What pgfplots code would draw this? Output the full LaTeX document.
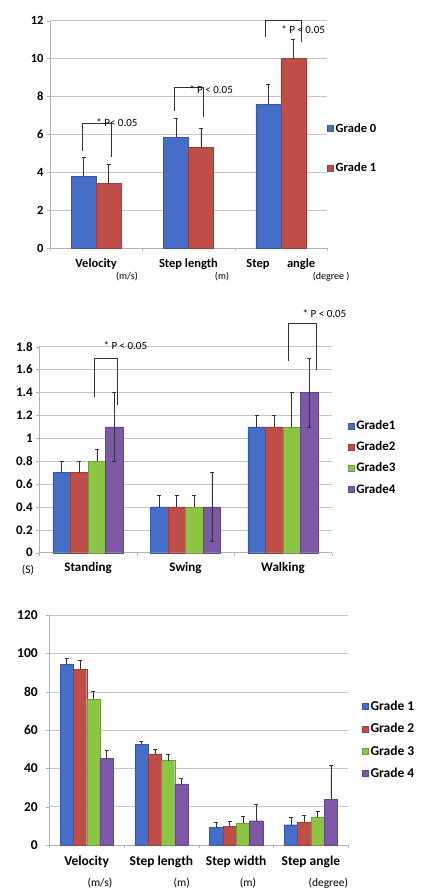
\documentclass[border=0pt]{standalone}
\usepackage{fontspec}
\setmainfont{Carlito}
\usepackage{pgfplots}
\pgfplotsset{compat=1.18}
\definecolor{cb}{RGB}{70,110,200}
\definecolor{cr}{RGB}{192,78,72}
\definecolor{cg}{RGB}{140,196,70}
\definecolor{cp}{RGB}{124,88,166}
\pgfplotsset{
  chart/.style={
    scale only axis, anchor=south west, ybar=0pt, clip=false,
    axis x line*=bottom, axis y line*=left,
    axis line style={gray!60,-},
    ymajorgrids, grid style={gray!45, line width=0.5pt},
    tick align=outside, major tick length=3pt, tick style={gray!60},
    /pgf/number format/assume math mode=true,
    legend style={draw=none, fill=none, anchor=north west},
    legend cell align=left,
    legend image code/.code={\fill[##1] (0pt,-3pt) rectangle (6pt,3pt);},
  },
  eb/.style={error bars/.cd, y dir=#1, y explicit,
    error bar style={black!80, line width=0.5pt},
    error mark options={rotate=90, mark size=2pt, black!80, line width=0.5pt}},
  eb/.default=plus,
  bstyle/.style={fill=#1, draw=#1!80!black, line width=0.3pt},
}
\begin{document}
\begin{tikzpicture}
\path[use as bounding box] (0,0) rectangle (420pt,888pt);
% ---------------- Panel 1 ----------------
\begin{axis}[chart,
  at={(50pt,640pt)}, width=277pt, height=227.3pt,
  ymin=0, ymax=12, ytick={0,2,4,6,8,10,12},
  xmin=-0.5, xmax=2.5,
  xtick={-0.5,0.5,1.5,2.5}, xticklabels={},
  extra x ticks={0,1,2},
  extra x tick labels={Velocity,Step length,{Step\hspace{1.4em}angle}},
  extra x tick style={major tick length=0pt, xticklabel style={yshift=-7pt}},
  ticklabel style={font=\bfseries\fontsize{12.5}{14}\selectfont},
  bar width=0.27,
  legend style={at={(0.99,0.567)}, font=\bfseries\fontsize{12.5}{14}\selectfont, row sep=25pt},
]
\addplot[bstyle=cb, bar shift=-0.135, eb] coordinates {(0,3.8) +- (0,1.0) (1,5.85) +- (0,1.0) (2,7.6) +- (0,1.05)};
\addplot[bstyle=cr, bar shift=0.135, eb] coordinates {(0,3.4) +- (0,1.0) (1,5.3) +- (0,1.03) (2,10.0) +- (0,1.02)};
\legend{Grade 0,Grade 1}
\draw[black!80, line width=0.5pt] (axis cs:-0.153,5.1) |- (axis cs:0.161,6.6) -- (axis cs:0.161,4.83);
\draw[black!80, line width=0.5pt] (axis cs:0.843,7.24) |- (axis cs:1.158,8.49) -- (axis cs:1.158,6.94);
\draw[black!80, line width=0.5pt] (axis cs:1.829,11.12) |- (axis cs:2.219,12.0) -- (axis cs:2.219,10.9);
\node[anchor=west, inner sep=0pt, font=\fontsize{11}{13}\selectfont] at (axis cs:0.0,6.6) {* P< 0.05};
\node[anchor=west, inner sep=0pt, font=\fontsize{11}{13}\selectfont] at (axis cs:1.006,8.38) {* P < 0.05};
\node[anchor=west, inner sep=0pt, font=\fontsize{11}{13}\selectfont] at (axis cs:2.003,11.54) {* P < 0.05};
\node[font=\fontsize{10}{12}\selectfont] at (axis cs:0.334,0) [yshift=-29pt] {(m/s)};
\node[font=\fontsize{10}{12}\selectfont] at (axis cs:1.363,0) [yshift=-29pt] {(m)};
\node[font=\fontsize{10}{12}\selectfont] at (axis cs:2.544,0) [yshift=-29pt] {(degree )};
\end{axis}
% ---------------- Panel 2 ----------------
\begin{axis}[chart,
  at={(39.3pt,335.3pt)}, width=292.4pt, height=206pt,
  ymin=0, ymax=1.8, ytick={0,0.2,0.4,0.6,0.8,1,1.2,1.4,1.6,1.8},
  yticklabel style={/pgf/number format/fixed},
  xmin=-0.5, xmax=2.5,
  xtick={-0.5,0.5,1.5,2.5}, xticklabels={},
  extra x ticks={0,1,2},
  extra x tick labels={Standing,Swing,Walking},
  extra x tick style={major tick length=0pt, xticklabel style={yshift=-6pt}},
  ticklabel style={font=\bfseries\fontsize{13}{15}\selectfont},
  bar width=0.18,
  legend style={at={(1.045,0.662)}, font=\bfseries\fontsize{13}{15}\selectfont, row sep=6.5pt},
]
\addplot[bstyle=cb, bar shift=-0.27, eb] coordinates {(0,0.7) +- (0,0.1) (1,0.4) +- (0,0.1) (2,1.1) +- (0,0.1)};
\addplot[bstyle=cr, bar shift=-0.09, eb] coordinates {(0,0.7) +- (0,0.1) (1,0.4) +- (0,0.1) (2,1.1) +- (0,0.1)};
\addplot[bstyle=cg, bar shift=0.09, eb] coordinates {(0,0.8) +- (0,0.1) (1,0.4) +- (0,0.1) (2,1.1) +- (0,0.3)};
\addplot[bstyle=cp, bar shift=0.27, eb=both] coordinates {(0,1.1) +- (0,0.3) (1,0.4) +- (0,0.3) (2,1.4) +- (0,0.3)};
\legend{Grade1,Grade2,Grade3,Grade4}
\draw[black!80, line width=0.5pt] (axis cs:0.061,1.363) |- (axis cs:0.300,1.698) -- (axis cs:0.300,1.29);
\draw[black!80, line width=0.5pt] (axis cs:2.054,1.675) |- (axis cs:2.338,2.004) -- (axis cs:2.338,1.596);
\node[anchor=west, inner sep=0pt, font=\fontsize{11}{13}\selectfont] at (axis cs:0.157,1.81) {* P < 0.05};
\node[anchor=west, inner sep=0pt, font=\fontsize{11}{13}\selectfont] at (axis cs:2.2,2.09) {* P < 0.05};
\node[font=\fontsize{11.5}{13}\selectfont] at (axis cs:-0.616,0) [yshift=-17pt] {(S)};
\end{axis}
% ---------------- Panel 3 ----------------
\begin{axis}[chart,
  at={(49.3pt,43pt)}, width=299pt, height=229.7pt,
  ymin=0, ymax=120, ytick={0,20,40,60,80,100,120},
  xmin=-0.5, xmax=3.5,
  xtick={-0.5,0.5,1.5,2.5,3.5}, xticklabels={},
  extra x ticks={0,1,2,3},
  extra x tick labels={Velocity,Step length,Step width,Step angle},
  extra x tick style={major tick length=0pt, xticklabel style={yshift=-7pt}},
  ticklabel style={font=\bfseries\fontsize{13.5}{15}\selectfont},
  yticklabel style={xshift=-5pt},
  bar width=0.178,
  legend style={at={(1.036,0.645)}, font=\bfseries\fontsize{13.5}{15}\selectfont, row sep=7.3pt},
]
\addplot[bstyle=cb, bar shift=-0.267, eb] coordinates {(0,94.3) +- (0,3.3) (1,52.6) +- (0,1.4) (2,9.1) +- (0,2.6) (3,10.6) +- (0,3.7)};
\addplot[bstyle=cr, bar shift=-0.089, eb] coordinates {(0,91.8) +- (0,4.5) (1,47.6) +- (0,2.2) (2,9.9) +- (0,2.5) (3,11.8) +- (0,3.5)};
\addplot[bstyle=cg, bar shift=0.089, eb] coordinates {(0,76.1) +- (0,4.2) (1,44.1) +- (0,3.1) (2,11.5) +- (0,3.3) (3,14.5) +- (0,3.3)};
\addplot[bstyle=cp, bar shift=0.267, eb] coordinates {(0,45.3) +- (0,4.0) (1,31.9) +- (0,2.9) (2,12.7) +- (0,8.6) (3,23.9) +- (0,17.6)};
\legend{Grade 1,Grade 2,Grade 3,Grade 4}
\node[font=\fontsize{11.5}{13}\selectfont] at (axis cs:0.178,0) [yshift=-38pt] {(m/s)};
\node[font=\fontsize{11.5}{13}\selectfont] at (axis cs:1.271,0) [yshift=-38pt] {(m)};
\node[font=\fontsize{11.5}{13}\selectfont] at (axis cs:2.158,0) [yshift=-38pt] {(m)};
\node[font=\fontsize{11.5}{13}\selectfont] at (axis cs:3.232,0) [yshift=-38pt] {(degree)};
\end{axis}
\end{tikzpicture}
\end{document}
